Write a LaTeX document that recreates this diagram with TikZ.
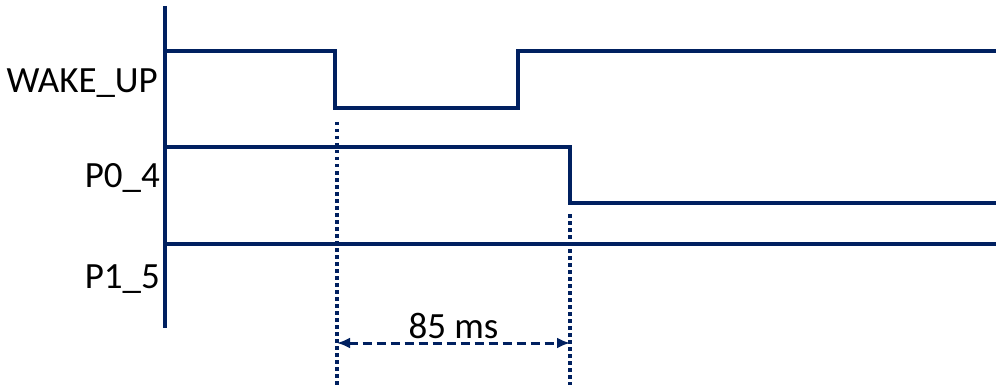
\documentclass[tikz,border=0pt]{standalone}
\usepackage{fontspec}
\setmainfont{Carlito}
\usetikzlibrary{arrows.meta}
\definecolor{navy}{RGB}{0,32,96}

\begin{document}
\begin{tikzpicture}[x=1pt,y=-1pt,
    wave/.style={navy,line width=3.5pt},
    marker/.style={navy,line width=3.5pt,dash pattern=on 3.5pt off 3.5pt},
    span/.style={navy,line width=3pt,dash pattern=on 9pt off 5pt,
      {Latex[length=13pt,width=11pt]}-{Latex[length=13pt,width=11pt]}},
    sig/.style={anchor=base east,inner sep=0pt,font=\fontsize{37}{42}\selectfont}]
    \useasboundingbox (0,0) rectangle (996,385);
    \draw[wave] (165,6) -- (165,328);

    \node[sig] (wake) at (158,93) {WAKE\_UP};
    \node[sig] (pa) at (160,187) {P0\_4};
    \node[sig] (pb) at (160,288) {P1\_5};

    \coordinate (fall) at (335,0);
    \coordinate (rise) at (518,0);
    \coordinate (drop) at (570,0);

    \draw[wave] (165,51) -| (fall |- 0,108) -| (rise |- 0,51) -- (996,51);
    \draw[wave] (165,147) -| (drop |- 0,203) -- (996,203);
    \draw[wave] (165,244) -- (996,244);

    \coordinate (m1) at (337,122);
    \coordinate (m2) at (570,214);
    \foreach \m in {m1,m2}
        \draw[marker] (\m) -- (\m |- 0,385);

    \coordinate (a1) at (337,343);
    \coordinate (a2) at (570,343);
    \draw[span] (a1) -- (a2) node[midway,above=3pt,inner sep=0pt,text=black,font=\fontsize{37}{42}\selectfont] (len) {85 ms};
\end{tikzpicture}
\end{document}
